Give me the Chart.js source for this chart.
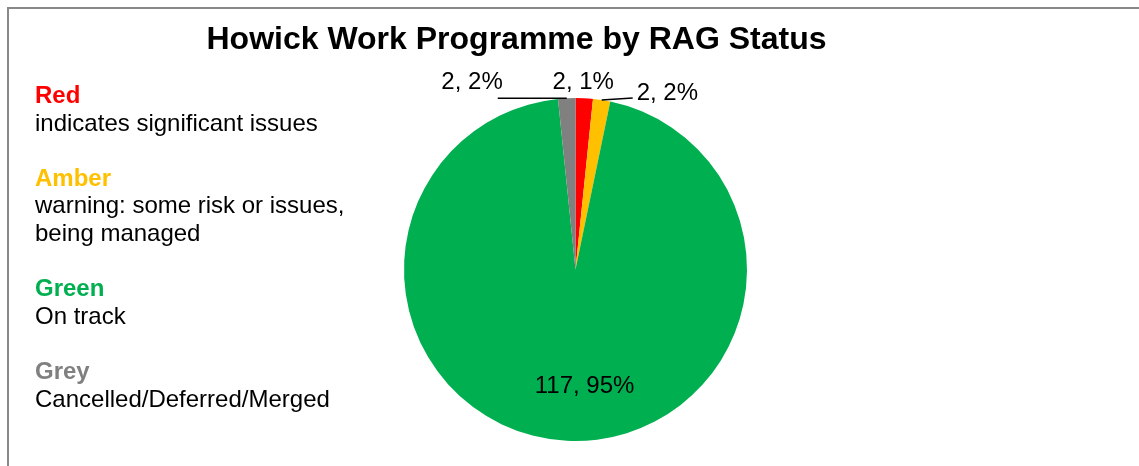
<!DOCTYPE html>
<html>
<head>
<meta charset="utf-8">
<title>Howick Work Programme by RAG Status</title>
<script src="https://cdn.jsdelivr.net/npm/chart.js@4.4.1/dist/chart.umd.min.js"></script>
<style>
  html, body { margin: 0; padding: 0; background: #fff; overflow: hidden; }
  body { width: 1139px; height: 466px; position: relative; font-family: "Liberation Sans", Arial, sans-serif; color: #000; }
  #frame { position: absolute; left: 7px; top: 7px; width: 1200px; height: 500px; border-top: 2px solid #898989; border-left: 2px solid #898989; }
  #chart { position: absolute; left: 0; top: 0; }
  #title { position: absolute; left: 0; top: 22px; width: 1033px; text-align: center; font-weight: bold; font-size: 32px; line-height: 32px; }
  #key { position: absolute; left: 35px; top: 81px; font-size: 24px; line-height: 27.6px; }
  #key b { display: block; }
  #key div { height: 27.6px; }
</style>
</head>
<body>
<div id="frame"></div>
<canvas id="chart" width="1139" height="466"></canvas>
<div id="title">Howick Work Programme by RAG Status</div>
<div id="key"></div>
<script>
// RAG categories, counts and the percentages shown on the labels
const categories = ["Red", "Amber", "Green", "Grey"];
const counts = [2, 2, 117, 2];
const percents = [1, 2, 95, 2];
const colours = ["#FF0000", "#FFC000", "#00B050", "#808080"];
const descriptions = [
  ["indicates significant issues"],
  ["warning: some risk or issues,", "being managed"],
  ["On track"],
  ["Cancelled/Deferred/Merged"]
];

// Status key on the left
const key = document.getElementById("key");
categories.forEach((name, i) => {
  const head = document.createElement("b");
  head.textContent = name;
  head.style.color = colours[i];
  key.appendChild(head);
  descriptions[i].forEach(line => {
    const d = document.createElement("div");
    d.textContent = line;
    key.appendChild(d);
  });
  if (i < categories.length - 1) key.appendChild(document.createElement("div"));
});

// where each value label sits relative to its slice's outer midpoint
const labelPlace = [
  { r: 1, dx: -1, dy: -16, align: "center" },
  { r: 1, dx: 35, dy: -7, align: "left", leader: [31, -2] },
  { r: 0.68, dx: 15, dy: 0, align: "center" },
  { r: 1, dx: -64, dy: -16, align: "right", leader: [-69, 0] }
];

const valueLabels = {
  id: "valueLabels",
  afterDatasetsDraw(chart) {
    const ctx = chart.ctx;
    const arcs = chart.getDatasetMeta(0).data;
    ctx.save();
    ctx.font = "24px 'Liberation Sans', Arial, sans-serif";
    ctx.fillStyle = "#000";
    ctx.strokeStyle = "#000";
    ctx.lineWidth = 1.5;
    ctx.textBaseline = "middle";
    arcs.forEach((arc, i) => {
      const p = labelPlace[i];
      const mid = (arc.startAngle + arc.endAngle) / 2;
      const ax = arc.x + Math.cos(mid) * arc.outerRadius * p.r;
      const ay = arc.y + Math.sin(mid) * arc.outerRadius * p.r;
      if (p.leader) {
        ctx.beginPath();
        ctx.moveTo(ax, ay);
        ctx.lineTo(ax + p.leader[0], ay + p.leader[1]);
        ctx.stroke();
      }
      ctx.textAlign = p.align;
      ctx.fillText(counts[i] + ", " + percents[i] + "%", ax + p.dx, ay + p.dy);
    });
    ctx.restore();
  }
};

new Chart(document.getElementById("chart"), {
  type: "pie",
  data: {
    labels: categories,
    datasets: [{
      data: counts,
      backgroundColor: colours,
      borderWidth: 0,
      radius: 171.5
    }]
  },
  options: {
    responsive: false,
    animation: false,
    layout: { padding: { left: 404, right: 392, top: 98, bottom: 25 } },
    plugins: {
      legend: { display: false },
      title: { display: false },
      tooltip: { enabled: false }
    }
  },
  plugins: [valueLabels]
});
</script>
</body>
</html>
